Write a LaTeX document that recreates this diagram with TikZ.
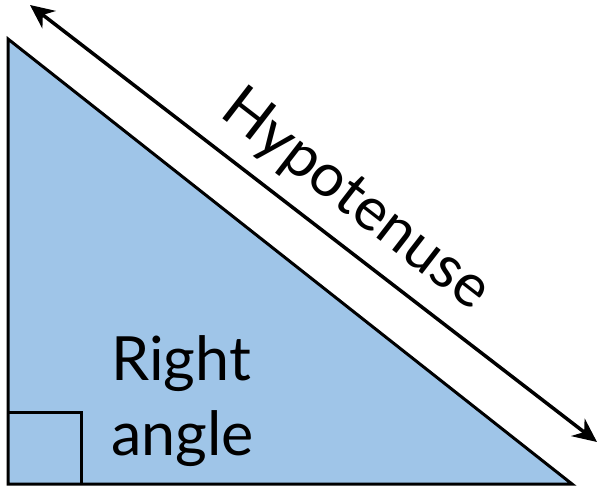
\documentclass[tikz,border=0pt]{standalone}
\usetikzlibrary{arrows.meta}
\usepackage{fontspec}
\setmainfont{Lato}
\definecolor{tri}{RGB}{159,197,232}
\begin{document}
\begin{tikzpicture}[x=1pt,y=-1pt,
  edge/.style={line width=3pt,line join=miter},
  lbl/.style={font=\fontsize{61}{70}\selectfont,inner sep=0pt}]
\useasboundingbox (0,0) rectangle (598,487);
\coordinate (A) at (8,39);
\coordinate (B) at (8,484);
\coordinate (C) at (572,484);
\fill[tri] (A) -- (B) -- (C) -- cycle;
\draw[edge] (8,412) -- (81,412) -- (81,484);
\draw[edge] (A) -- (B) -- (C) -- cycle;
\coordinate (P) at (30,5);
\coordinate (Q) at (597,442);
\draw[line width=3.5pt,{Stealth[length=24pt,width=22pt]}-{Stealth[length=24pt,width=22pt]}] (P) -- (Q);
\node[lbl,anchor=base west] (r) at (111,380) {Right};
\node[lbl,anchor=base west] (g) at (111,455) {angle};
\node[font=\fontsize{60}{68}\selectfont,inner sep=0pt,rotate=-37.7] (h) at (355,201) {Hypotenuse};
\end{tikzpicture}
\end{document}
